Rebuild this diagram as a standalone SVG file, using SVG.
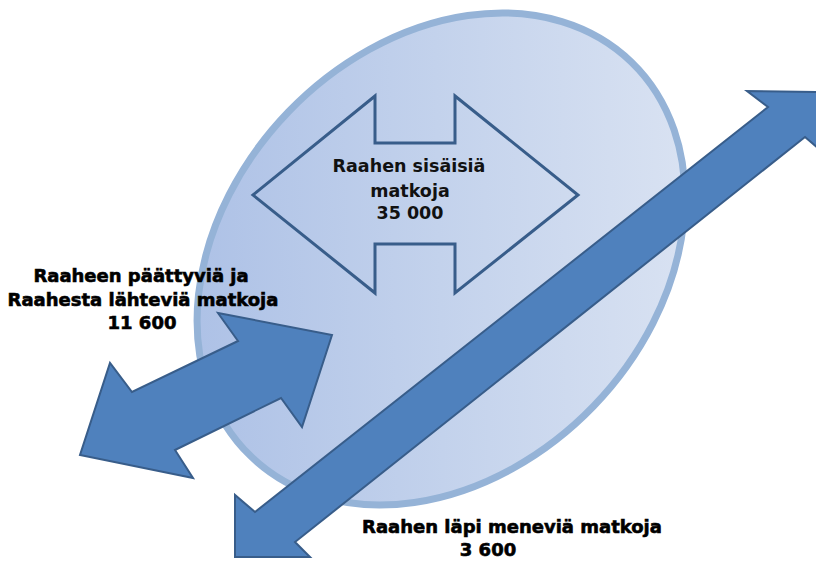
<svg xmlns="http://www.w3.org/2000/svg" width="816" height="561" viewBox="0 0 816 561">
  <defs>
    <linearGradient id="ellGrad" gradientUnits="userSpaceOnUse" x1="230" y1="470" x2="650" y2="50">
      <stop offset="0" stop-color="#a9bee5"/>
      <stop offset="0.5" stop-color="#c3d2ec"/>
      <stop offset="1" stop-color="#dde5f3"/>
    </linearGradient>
  </defs>
  <style>
    .block { fill: #4f81bd; stroke: #385d8a; stroke-width: 2; stroke-linejoin: miter; }
    .outline { fill: none; stroke: #385d8a; stroke-width: 3; stroke-linejoin: miter; }
    .lbl { font-family: "DejaVu Sans", "Liberation Sans", sans-serif; font-weight: bold; font-size: 18px; fill: #000; text-anchor: middle; }
    .glow { stroke: #000; stroke-width: 0.6; }
    .inner { font-size: 17.5px; fill: #111; }
  </style>
  <rect width="816" height="561" fill="#ffffff"/>

  <g id="raahe">
    <ellipse cx="441" cy="259" rx="212" ry="274" transform="rotate(44 441 259)" fill="url(#ellGrad)" stroke="#95b3d7" stroke-width="7"/>
  </g>

  <g id="internal-trips">
    <polygon class="outline" points="253,195 375,96 375,143 455,143 455,96 578,195 455,293 455,244 375,244 375,293"/>
    <text class="lbl inner" x="409" y="172">Raahen sisäisiä</text>
    <text class="lbl inner" x="410" y="197">matkoja</text>
    <text class="lbl inner" x="410" y="219">35 000</text>
  </g>

  <g id="connectors">
    <g id="end-start-trips">
      <polygon class="block" points="332,335 302,427 281,398 175,450 193,478 80,455 110,363 132,392 238,341 218,313"/>
      <text class="lbl glow" x="141" y="282">Raaheen päättyviä ja</text>
      <text class="lbl glow" x="143" y="306">Raahesta lähteviä matkoja</text>
      <text class="lbl glow" x="142" y="329">11 600</text>
    </g>
    <g id="through-trips">
      <polygon class="block" points="235,557 235,495 255,512 768,107 747,91 825,92 825,154 805,137 295,542 310,557"/>
      <text class="lbl glow" x="512" y="533">Raahen läpi meneviä matkoja</text>
      <text class="lbl glow" x="488" y="556">3 600</text>
    </g>
  </g>
</svg>
